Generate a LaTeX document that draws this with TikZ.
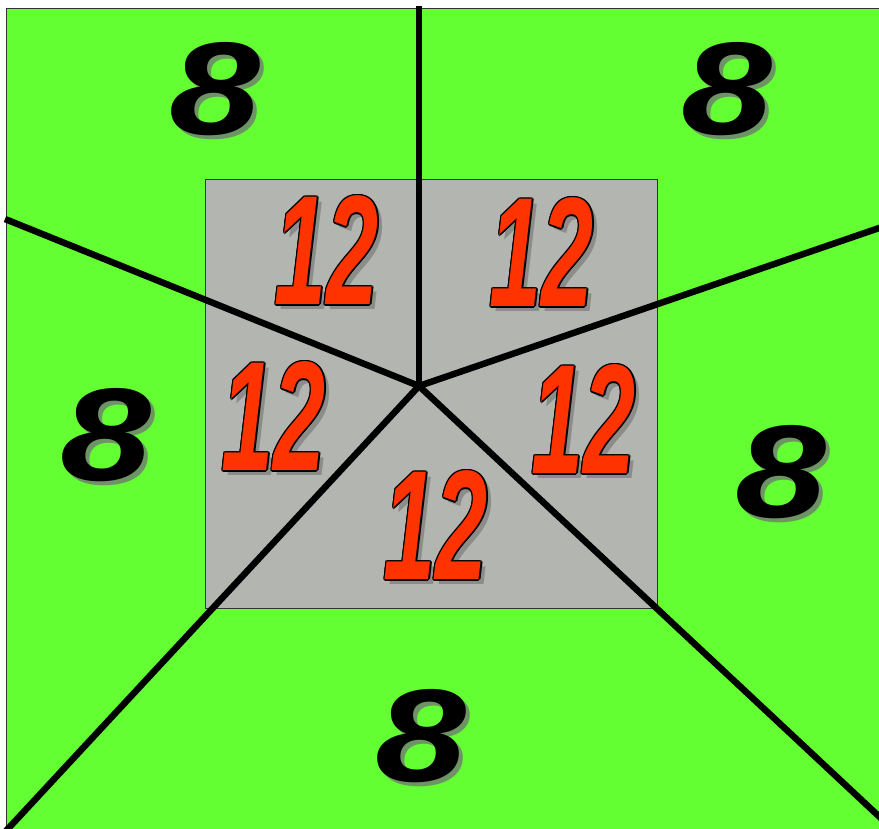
\documentclass[tikz,border=0pt]{standalone}
\usepackage{fontspec}
\setmainfont{Liberation Sans}
\definecolor{grn}{HTML}{63FF33}
\definecolor{gry}{HTML}{B3B5B1}
\definecolor{redo}{HTML}{FF3300}
\definecolor{eshad}{HTML}{6E9466}
\definecolor{tshad}{HTML}{8C8D8A}
\newcommand{\eightfont}{\fontsize{132}{132}\selectfont\bfseries\itshape}
\newcommand{\twelvefont}{\fontsize{156}{156}\selectfont\bfseries\itshape}
\newcommand{\eighttxt}{\scalebox{1.24}[1]{\eightfont 8}}
\newcommand{\twelvetxt}{\scalebox{0.6}[1]{\twelvefont 12}}
% overlay helper: horizontal shift, vertical shift, colour, content
\newcommand{\ovl}[4]{\rlap{\kern#1\raisebox{#2}{\color{#3}#4}}}
\newcommand{\eightlabel}{\ovl{4pt}{-4pt}{eshad}{\eighttxt}\ovl{0pt}{0pt}{black}{\eighttxt}\phantom{\eighttxt}}
\newcommand{\twelvelabel}{%
  \ovl{5pt}{-5pt}{tshad}{\twelvetxt}%
  \ovl{1.4pt}{0pt}{black}{\twelvetxt}\ovl{-1.4pt}{0pt}{black}{\twelvetxt}%
  \ovl{0pt}{1.4pt}{black}{\twelvetxt}\ovl{0pt}{-1.4pt}{black}{\twelvetxt}%
  \ovl{1pt}{1pt}{black}{\twelvetxt}\ovl{1pt}{-1pt}{black}{\twelvetxt}%
  \ovl{-1pt}{1pt}{black}{\twelvetxt}\ovl{-1pt}{-1pt}{black}{\twelvetxt}%
  \ovl{0pt}{0pt}{redo}{\twelvetxt}\phantom{\twelvetxt}}
\begin{document}
\begin{tikzpicture}[x=1pt,y=-1pt,
  divider/.style={line width=6.5pt,black,line cap=butt},
  eightlbl/.style={inner sep=0pt},
  twlbl/.style={inner sep=0pt}]
\useasboundingbox (0,0) rectangle (879,829);
\clip (0,0) rectangle (879,829);
\fill[white] (0,0) rectangle (879,829);
\draw[fill=grn,draw=black!80,line width=1pt] (6.5,9) rectangle (890,840);
\draw[fill=gry,draw=black!80,line width=1pt] (205,180) rectangle (657,608);
\coordinate (c) at (419,386);
\coordinate (t) at (419,6);
\coordinate (l) at (5,219);
\coordinate (r) at (885,226);
\coordinate (bl) at (5,832);
\coordinate (br) at (885,822);
\draw[divider] (c) -- (t);
\draw[divider] (c) -- (l);
\draw[divider] (c) -- (r);
\draw[divider] (c) -- (bl);
\draw[divider] (c) -- (br);
% eights
\node[eightlbl] (e1) at (215,91) {\eightlabel};
\node[eightlbl] (e2) at (727,91) {\eightlabel};
\node[eightlbl] (e3) at (106,437) {\eightlabel};
\node[eightlbl] (e4) at (781,474) {\eightlabel};
\node[eightlbl] (e5) at (421,738) {\eightlabel};
% twelves
\node[twlbl] (w1) at (327,252) {\twelvelabel};
\node[twlbl] (w2) at (542,254) {\twelvelabel};
\node[twlbl] (w3) at (274,418) {\twelvelabel};
\node[twlbl] (w4) at (584,421) {\twelvelabel};
\node[twlbl] (w5) at (436,527) {\twelvelabel};
\end{tikzpicture}
\end{document}
